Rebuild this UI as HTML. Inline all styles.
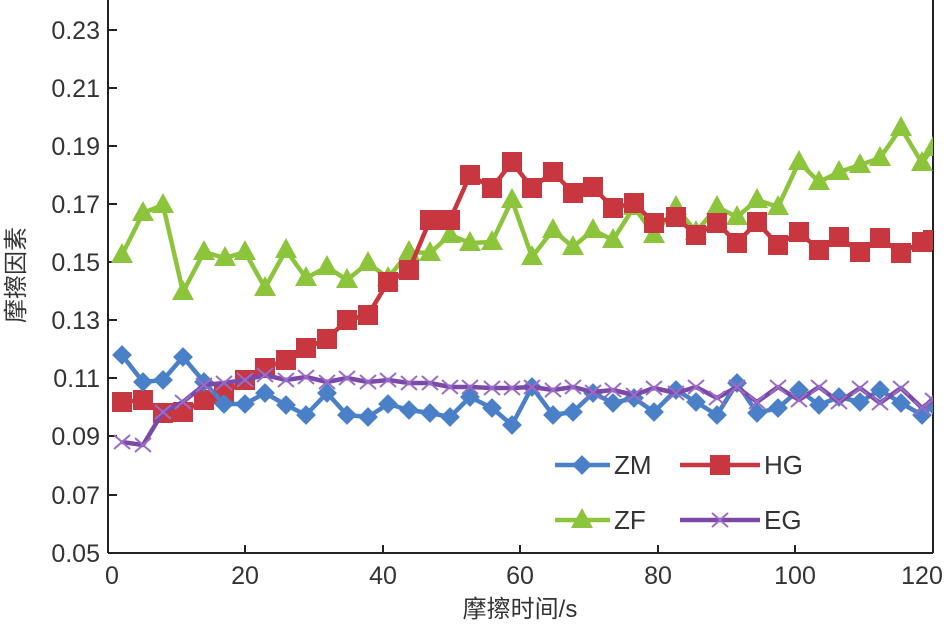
<!DOCTYPE html>
<html><head><meta charset="utf-8"><style>
body{margin:0;background:#fff;}
text{font-family:"Liberation Sans","Noto Sans CJK SC",sans-serif;fill:#333;}
</style></head><body>
<svg width="949" height="627" viewBox="0 0 949 627" xmlns="http://www.w3.org/2000/svg">
<defs>
<clipPath id="c"><rect x="108" y="0" width="825" height="553"/></clipPath>
<marker id="mdm" markerUnits="userSpaceOnUse" markerWidth="24" markerHeight="24" refX="12" refY="12" overflow="visible"><rect x="5" y="5" width="14" height="14" transform="rotate(45 12 12)" fill="#4a80c8"/></marker>
<marker id="msq" markerUnits="userSpaceOnUse" markerWidth="24" markerHeight="24" refX="12" refY="12" overflow="visible"><rect x="2" y="2" width="20" height="20" fill="#c8373f"/></marker>
<marker id="mtr" markerUnits="userSpaceOnUse" markerWidth="24" markerHeight="24" refX="12" refY="12" overflow="visible"><polygon points="12,0 23,20 1,20" fill="#8cc43c"/></marker>
<marker id="mxx" markerUnits="userSpaceOnUse" markerWidth="24" markerHeight="24" refX="12" refY="12" overflow="visible"><path d="M4,5 L20,19 M4,19 L20,5" stroke="#9a6cc8" stroke-width="2" fill="none"/></marker>
</defs>
<g stroke="#222" stroke-width="2" fill="none">
<line x1="108" y1="0" x2="108" y2="553"/>
<line x1="108" y1="553" x2="933" y2="553"/>
<line x1="933" y1="0" x2="933" y2="553"/>
<path d="M108,30h9M108,88h9M108,146h9M108,204h9M108,262h9M108,320h9M108,378h9M108,436h9M108,495h9"/>
<path d="M245,553v-8M383,553v-8M520,553v-8M658,553v-8M795,553v-8"/>
</g>
<g font-size="25" text-anchor="end">
<text x="100" y="39">0.23</text><text x="100" y="97">0.21</text><text x="100" y="155">0.19</text>
<text x="100" y="213">0.17</text><text x="100" y="271">0.15</text><text x="100" y="329">0.13</text>
<text x="100" y="387">0.11</text><text x="100" y="445">0.09</text><text x="100" y="504">0.07</text>
<text x="100" y="562">0.05</text>
</g>
<g font-size="25" text-anchor="middle">
<text x="112" y="584">0</text><text x="245" y="584">20</text><text x="383" y="584">40</text>
<text x="520" y="584">60</text><text x="658" y="584">80</text><text x="795" y="584">100</text><text x="922" y="584">120</text>
<text x="520" y="617" font-size="24">摩擦时间/s</text>
<text transform="translate(24,275) rotate(-90)" font-size="24">摩擦因素</text>
</g>
<g clip-path="url(#c)" fill="none" stroke-width="4.5" stroke-linejoin="round">
<polyline stroke="#8cc43c" marker-start="url(#mtr)" marker-mid="url(#mtr)" marker-end="url(#mtr)" points="122,255 143,213 163,205 183,292 204,252 225,258 245,252 265,288 286,250 306,278 327,267 347,280 368,263 388,278 409,252 430,253 450,235 470,243 492,242 512,200 532,257 553,230 573,247 593,230 613,240 634,207 654,235 676,207 696,232 717,207 737,217 757,200 778,207 799,162 819,182 839,172 860,165 880,158 901,128 922,163 933,148"/>
<polyline stroke="#c8373f" marker-start="url(#msq)" marker-mid="url(#msq)" marker-end="url(#msq)" points="122,402 143,400 163,413 183,412 204,400 224,394 245,380 265,368 286,360 306,348 327,339 347,320 368,315 388,282 409,270 430,220 450,220 470,175 492,188 512,162 532,188 553,172 573,193 593,187 613,208 634,203 654,223 676,217 696,235 717,223 737,243 757,222 778,245 799,232 819,250 839,237 860,252 880,238 901,253 922,242 933,240"/>
<polyline stroke="#4a80c8" marker-start="url(#mdm)" marker-mid="url(#mdm)" marker-end="url(#mdm)" points="122,355 143,382 163,380 183,357 204,382 224,404 245,404 265,393 286,405 306,415 327,393 347,415 368,417 388,404 409,410 430,413 450,417 470,397 492,408 512,425 532,387 553,415 573,412 593,393 613,403 634,398 654,412 676,390 696,402 717,415 737,383 757,413 778,408 799,390 819,405 839,397 860,402 880,390 901,403 922,415 933,405"/>
<polyline stroke="#7b4aa8" marker-start="url(#mxx)" marker-mid="url(#mxx)" marker-end="url(#mxx)" points="122,442 143,445 163,412 183,402 204,385 224,383 245,380 265,375 286,380 306,377 327,382 347,378 368,382 388,380 409,383 430,383 450,387 470,387 492,388 512,388 532,387 553,390 573,387 593,392 613,390 634,395 654,388 676,393 696,387 717,398 737,387 757,402 778,387 799,400 819,387 839,402 860,388 880,403 901,388 922,408 933,400"/>
</g>
<g stroke-width="4.5" fill="none">
<polyline points="555,465 582,465 610,465" stroke="#4a80c8" marker-mid="url(#mdm)"/>
<polyline points="680,465 720,465 760,465" stroke="#c8373f" marker-mid="url(#msq)"/>
<polyline points="555,520 582,520 610,520" stroke="#8cc43c" marker-mid="url(#mtr)"/>
<polyline points="680,520 720,520 760,520" stroke="#7b4aa8" marker-mid="url(#mxx)"/>
</g>
<g font-size="26">
<text x="614" y="474">ZM</text><text x="764" y="474">HG</text>
<text x="614" y="529">ZF</text><text x="764" y="529">EG</text>
</g>
</svg>
</body></html>
